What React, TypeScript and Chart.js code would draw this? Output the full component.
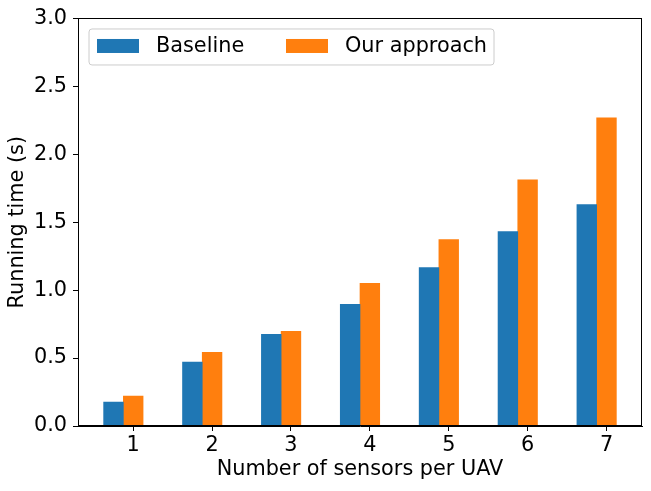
import React, { useEffect, useRef } from "react";
import { Chart, registerables } from "chart.js";

Chart.register(...registerables);

const categories = [1, 2, 3, 4, 5, 6, 7];
const baseline = [0.176, 0.47, 0.675, 0.896, 1.167, 1.432, 1.63];
const ourApproach = [0.22, 0.543, 0.697, 1.05, 1.373, 1.813, 2.269];
const yTicks = [0, 0.5, 1, 1.5, 2, 2.5, 3];
const seriesNames = ["Baseline", "Our approach"];
const colors = ["#1f77b4", "#ff7f0e"];

const FONT = "'DejaVu Sans', sans-serif";
const FS = 20.8;

const framePlugin = {
  id: "frame",
  afterDatasetsDraw(chart: any) {
    const { ctx, chartArea } = chart;
    ctx.save();
    ctx.strokeStyle = "#000";
    ctx.lineWidth = 1;
    ctx.strokeRect(
      Math.round(chartArea.left) + 0.5,
      Math.round(chartArea.top) + 0.5,
      Math.round(chartArea.right - chartArea.left) - 1,
      Math.round(chartArea.bottom - chartArea.top) - 1
    );
    ctx.restore();
  },
};

const legendPlugin = {
  id: "innerLegend",
  afterDraw(chart: any) {
    const { ctx, chartArea } = chart;
    const x0 = chartArea.left + 11;
    const y0 = chartArea.top + 10.5;
    const w = 405;
    const h = 36;
    ctx.save();
    ctx.beginPath();
    const r = 3;
    ctx.moveTo(x0 + r, y0);
    ctx.lineTo(x0 + w - r, y0);
    ctx.arcTo(x0 + w, y0, x0 + w, y0 + r, r);
    ctx.lineTo(x0 + w, y0 + h - r);
    ctx.arcTo(x0 + w, y0 + h, x0 + w - r, y0 + h, r);
    ctx.lineTo(x0 + r, y0 + h);
    ctx.arcTo(x0, y0 + h, x0, y0 + h - r, r);
    ctx.lineTo(x0, y0 + r);
    ctx.arcTo(x0, y0, x0 + r, y0, r);
    ctx.closePath();
    ctx.fillStyle = "rgba(255,255,255,0.8)";
    ctx.fill();
    ctx.strokeStyle = "#cccccc";
    ctx.lineWidth = 1;
    ctx.stroke();
    ctx.font = `${FS}px ${FONT}`;
    ctx.textBaseline = "middle";
    ctx.fillStyle = "#000";
    const items = chart.data.datasets;
    const offsets = [8, 197];
    items.forEach((ds: any, i: number) => {
      const sx = x0 + offsets[i];
      ctx.fillStyle = ds.backgroundColor;
      ctx.fillRect(sx, y0 + 10, 42, 14);
      ctx.fillStyle = "#000";
      ctx.fillText(ds.label, sx + 59, y0 + 18);
    });
    ctx.restore();
  },
};

export default function App() {
  const ref = useRef<HTMLCanvasElement>(null);
  useEffect(() => {
    document.body.style.margin = "0";
    const chart = new Chart(ref.current!, {
      type: "bar",
      data: {
        datasets: [
          {
            label: seriesNames[0],
            data: categories.map((c, i) => ({ x: c - 0.25, y: baseline[i] })),
            backgroundColor: colors[0],
            grouped: false,
            barPercentage: 1,
            categoryPercentage: 1,
          },
          {
            label: seriesNames[1],
            data: categories.map((c, i) => ({ x: c, y: ourApproach[i] })),
            backgroundColor: colors[1],
            grouped: false,
            barPercentage: 1,
            categoryPercentage: 1,
          },
        ] as any,
      },
      options: {
        animation: false,
        responsive: false,
        maintainAspectRatio: false,
        layout: { padding: { top: 17, right: 9, left: 0, bottom: 0 } },
        plugins: {
          legend: { display: false },
          tooltip: { enabled: false },
        },
        scales: {
          x: {
            type: "linear",
            min: 0.3,
            max: 7.45,
            offset: false,
            afterBuildTicks: (scale: any) => {
              scale.ticks = categories.map((v) => ({ value: v }));
            },
            afterFit: (scale: any) => {
              scale.height = 65;
            },
            ticks: {
              color: "#000",
              font: { family: FONT, size: FS },
              padding: 2,
              callback: (v: any) => String(v),
              maxRotation: 0,
              autoSkip: false,
            },
            grid: {
              display: true,
              offset: false,
              drawOnChartArea: false,
              drawTicks: true,
              tickLength: 5,
              color: "#000",
            },
            border: { display: true, color: "#000" },
            title: {
              display: true,
              text: "Number of sensors per UAV",
              color: "#000",
              font: { family: FONT, size: FS },
              padding: { top: 2, bottom: 8.5 },
            },
          },
          y: {
            type: "linear",
            min: 0,
            max: 3,
            afterBuildTicks: (scale: any) => {
              scale.ticks = yTicks.map((v) => ({ value: v }));
            },
            afterFit: (scale: any) => {
              scale.width = 78;
            },
            ticks: {
              color: "#000",
              font: { family: FONT, size: FS },
              padding: 6,
              callback: (v: any) => Number(v).toFixed(1),
            },
            grid: {
              display: true,
              drawOnChartArea: false,
              drawTicks: true,
              tickLength: 5,
              color: "#000",
            },
            border: { display: true, color: "#000" },
            title: {
              display: true,
              text: "Running time (s)",
              color: "#000",
              font: { family: FONT, size: FS },
              padding: { top: 5, bottom: 4 },
            },
          },
        },
      } as any,
      plugins: [framePlugin, legendPlugin],
    });
    return () => chart.destroy();
  }, []);
  return (
    <div style={{ width: 651, height: 491 }}>
      <canvas ref={ref} width={651} height={491} style={{ display: "block" }} />
    </div>
  );
}
